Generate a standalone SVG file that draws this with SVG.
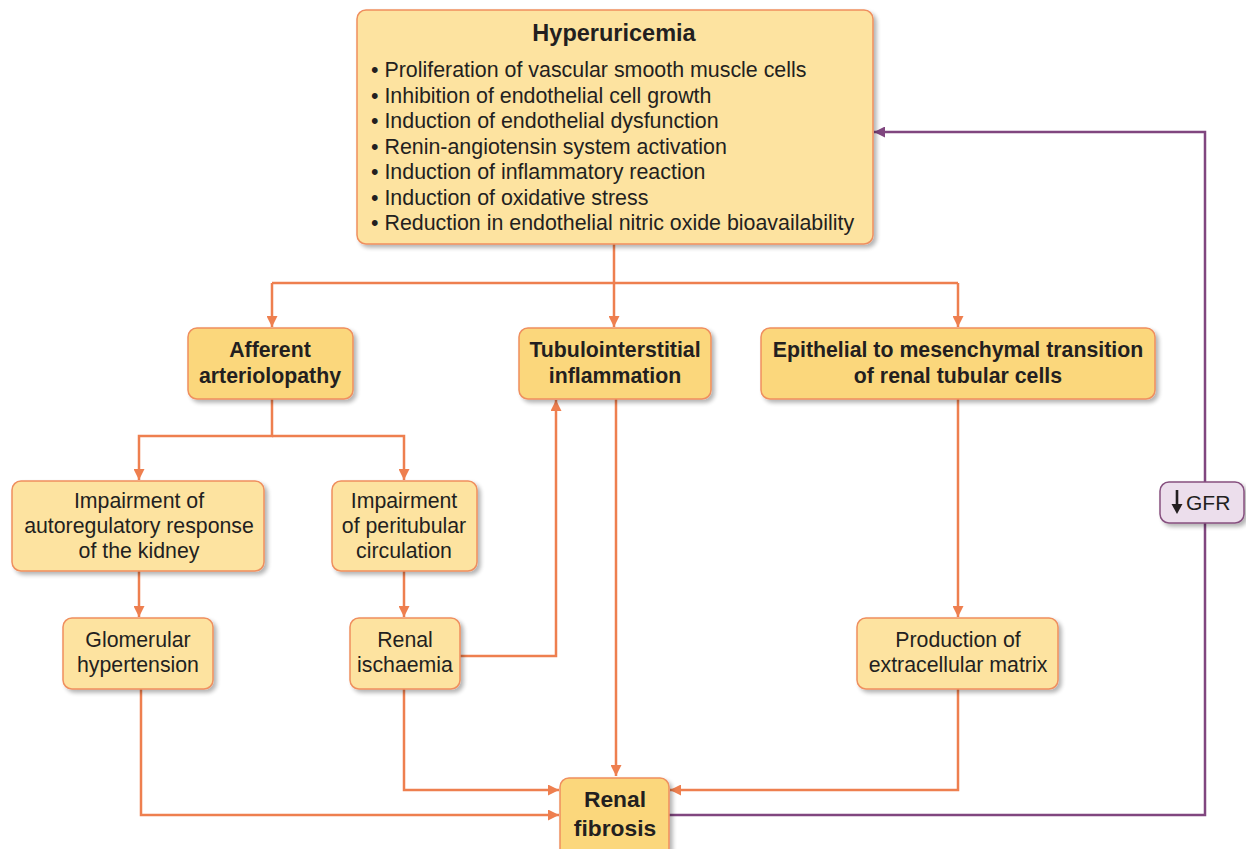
<svg xmlns="http://www.w3.org/2000/svg" width="1246" height="849" viewBox="0 0 1246 849">
<defs>
<filter id="sh" x="-10%" y="-10%" width="130%" height="130%">
<feGaussianBlur in="SourceAlpha" stdDeviation="2"/>
<feOffset dx="3" dy="3"/>
<feComponentTransfer><feFuncA type="linear" slope="0.3"/></feComponentTransfer>
<feMerge><feMergeNode/><feMergeNode in="SourceGraphic"/></feMerge>
</filter>
<marker id="ao" viewBox="0 0 10 10" refX="10" refY="5" markerWidth="11" markerHeight="11" markerUnits="userSpaceOnUse" orient="auto">
<path d="M0,0 L10,5 L0,10 z" fill="#ee7f4f"/>
</marker>
<marker id="ap" viewBox="0 0 10 10" refX="10" refY="5" markerWidth="11" markerHeight="11" markerUnits="userSpaceOnUse" orient="auto">
<path d="M0,0 L10,5 L0,10 z" fill="#80467f"/>
</marker>
</defs>
<style>
.lt{fill:#fde3a0;stroke:#ef8f5e;stroke-width:1.5;filter:url(#sh)}
.dk{fill:#fbd77c;stroke:#ef8f5e;stroke-width:1.5;filter:url(#sh)}
.gf{fill:#ecdeec;stroke:#86507f;stroke-width:1.5;filter:url(#sh)}
text{font-family:"Liberation Sans",Arial,sans-serif;fill:#231f20}
.n{font-size:21.3px;text-anchor:middle}
.b{font-size:21.3px;font-weight:bold;text-anchor:middle}
.bl{font-size:21.4px}
.c{fill:none;stroke:#ee7f4f;stroke-width:2.5}
.p{fill:none;stroke:#80467f;stroke-width:2.5}
</style>
<g id="connectors">
<path class="c" d="M614,244 V283"/>
<path class="c" d="M272,283 H958"/>
<path class="c" d="M272,283 V327" marker-end="url(#ao)"/>
<path class="c" d="M614,283 V327" marker-end="url(#ao)"/>
<path class="c" d="M958,283 V327" marker-end="url(#ao)"/>
<path class="c" d="M272,399 V436 H139 V480" marker-end="url(#ao)"/>
<path class="c" d="M272,436 H404 V480" marker-end="url(#ao)"/>
<path class="c" d="M139,571 V617" marker-end="url(#ao)"/>
<path class="c" d="M404,571 V617" marker-end="url(#ao)"/>
<path class="c" d="M460,656 H556 V400" marker-end="url(#ao)"/>
<path class="c" d="M616,399 V776" marker-end="url(#ao)"/>
<path class="c" d="M958,399 V617" marker-end="url(#ao)"/>
<path class="c" d="M141,689 V815 H559" marker-end="url(#ao)"/>
<path class="c" d="M404,689 V790 H559" marker-end="url(#ao)"/>
<path class="c" d="M958,689 V790 H670" marker-end="url(#ao)"/>
<path class="p" d="M669,815 H1205 V523"/>
<path class="p" d="M1205,482 V132 H874" marker-end="url(#ap)"/>
</g>
<g id="hyperuricemia">
<rect class="lt" x="357" y="10" width="516" height="234" rx="9"/>
<text class="b" x="614" y="41" style="font-size:23.5px">Hyperuricemia</text>
<text class="bl" x="371" y="77">• Proliferation of vascular smooth muscle cells</text>
<text class="bl" x="371" y="103">• Inhibition of endothelial cell growth</text>
<text class="bl" x="371" y="128">• Induction of endothelial dysfunction</text>
<text class="bl" x="371" y="154">• Renin-angiotensin system activation</text>
<text class="bl" x="371" y="179">• Induction of inflammatory reaction</text>
<text class="bl" x="371" y="205">• Induction of oxidative stress</text>
<text class="bl" x="371" y="230">• Reduction in endothelial nitric oxide bioavailability</text>
</g>
<g id="afferent">
<rect class="dk" x="188" y="328" width="165" height="71" rx="9"/>
<text class="b" x="270" y="357">Afferent</text>
<text class="b" x="270" y="383">arteriolopathy</text>
</g>
<g id="tubulo">
<rect class="dk" x="519" y="328" width="192" height="71" rx="9"/>
<text class="b" x="615" y="357">Tubulointerstitial</text>
<text class="b" x="615" y="383">inflammation</text>
</g>
<g id="emt">
<rect class="dk" x="761" y="328" width="394" height="71" rx="9"/>
<text class="b" x="958" y="357">Epithelial to mesenchymal transition</text>
<text class="b" x="958" y="383">of renal tubular cells</text>
</g>
<g id="autoreg">
<rect class="lt" x="12" y="481" width="252" height="90" rx="9"/>
<text class="n" x="139" y="508">Impairment of</text>
<text class="n" x="139" y="533">autoregulatory response</text>
<text class="n" x="139" y="558">of the kidney</text>
</g>
<g id="peritubular">
<rect class="lt" x="332" y="481" width="145" height="90" rx="9"/>
<text class="n" x="404" y="508">Impairment</text>
<text class="n" x="404" y="533">of peritubular</text>
<text class="n" x="404" y="558">circulation</text>
</g>
<g id="glomerular">
<rect class="lt" x="63" y="618" width="150" height="71" rx="9"/>
<text class="n" x="138" y="647">Glomerular</text>
<text class="n" x="138" y="672">hypertension</text>
</g>
<g id="ischaemia">
<rect class="lt" x="350" y="618" width="110" height="71" rx="9"/>
<text class="n" x="405" y="647">Renal</text>
<text class="n" x="405" y="672">ischaemia</text>
</g>
<g id="ecm">
<rect class="lt" x="857" y="618" width="201" height="71" rx="9"/>
<text class="n" x="958" y="647">Production of</text>
<text class="n" x="958" y="672">extracellular matrix</text>
</g>
<g id="fibrosis">
<rect class="dk" x="560" y="778" width="109" height="80" rx="9"/>
<text class="b" x="615" y="807" style="font-size:22.8px">Renal</text>
<text class="b" x="615" y="836" style="font-size:22.8px">fibrosis</text>
</g>
<g id="gfr">
<rect class="gf" x="1160" y="482" width="84" height="41" rx="9"/>
<path d="M1177,490 V508" stroke="#231f20" stroke-width="2.6"/>
<path d="M1171.5,504 L1177,514 L1182.5,504 z" fill="#231f20"/>
<text x="1186" y="510" style="font-size:21px">GFR</text>
</g>
</svg>
